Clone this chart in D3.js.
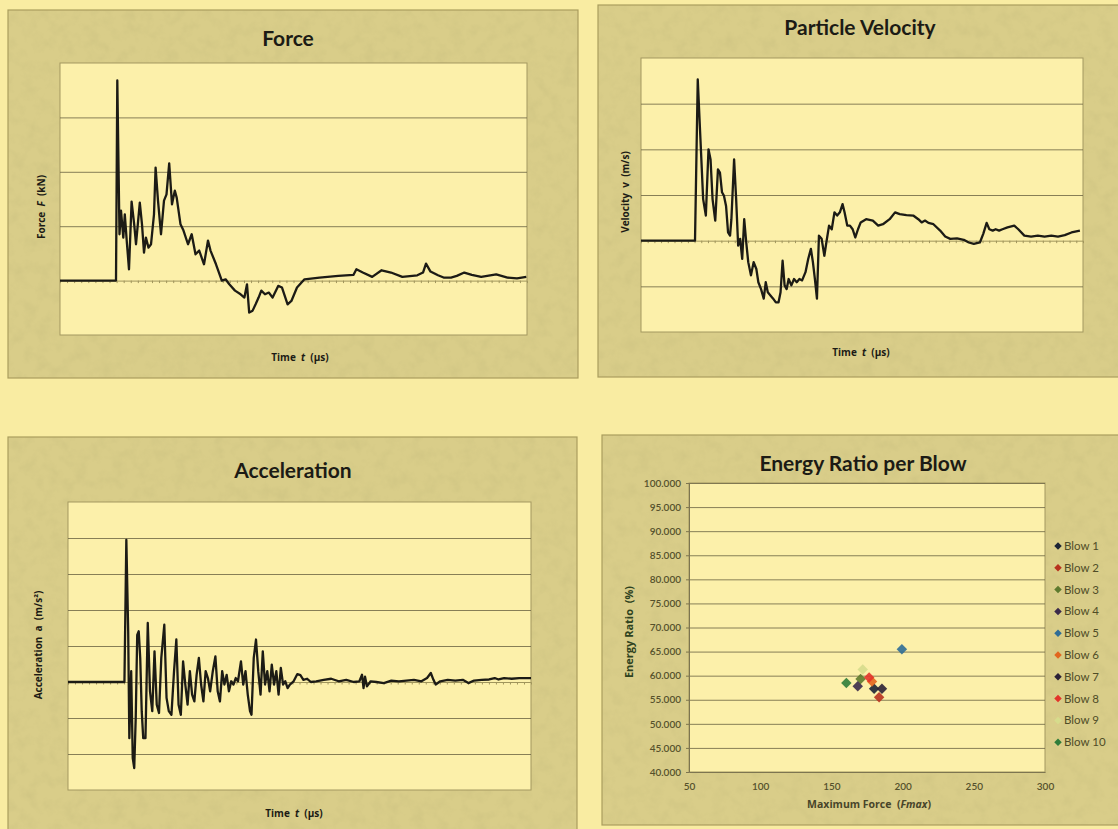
<!DOCTYPE html>
<html><head><meta charset="utf-8">
<script src="https://cdn.jsdelivr.net/npm/d3@7"></script>
<style>html,body{margin:0;padding:0;background:#f9eca2;}svg{display:block}</style>
</head><body><script>
// ---------------- DATA ----------------
// Force (kN) vs time (µs)
const forceTime = [0,112,114.6,119,122,126.6,129.6,134,138,143.2,148.4,152,159.6,164,168,171.8,177,182,188,191.2,196,202,208,213,218.4,224,229.6,233.4,241,247,256,263.4,271,278.4,288,296,301,312,323.6,331.2,338.6,350,361.2,368.8,374,378.4,385.2,391.2,397.2,402.6,410,417.6,425.2,436.4,444,455.2,462.8,474,489,519,556.6,586.8,592.8,605.6,624.4,643.2,662,684.6,714.6,726,732,741,756,767.2,782,793.6,808.6,823.6,842.4,872.4,895,914,932.6];
const forceValues = [0,0,184,42.6,64.3,39.5,60.9,33.4,10.4,72.6,51.7,33.4,71.7,51.7,25.7,39.5,30.3,33.4,60.9,103.9,73.5,42.6,73.5,79.3,107.8,70.1,82.7,76.3,51.7,46,33.4,42.6,24.2,27.6,15,36.8,27.6,15,0,1.2,-3.4,-9.2,-12.6,-15.6,-3.4,-29.4,-27.6,-21.8,-15.6,-9.2,-12.6,-11,-15.6,-4.9,-6.4,-21.8,-18.7,-6.4,1.2,2.8,4.3,5.2,10.4,7.4,3.4,9.5,7.4,3.4,4.9,7.4,15.6,8.3,4.9,2.8,2.8,4.3,7.4,5.2,3.4,5.8,2.8,2.1,3.4];

// Particle velocity (m/s) vs time (µs)
const velocityTime = [0,108,113.5,118.9,124.3,129.7,135,139.1,143.1,148.5,153.9,157.9,162,166,170.1,174.1,178.1,180.8,186.2,190.3,194.3,198.3,202.4,206.4,210.5,214.5,219.9,225.3,230.7,234.7,240.1,245.5,249.5,253.6,258.9,264.3,269.7,275.1,279.1,283.2,287.2,291.3,295.3,300.7,306.1,311.5,316.9,322.2,329,334.4,339.8,343.8,347.8,351.9,355.9,361.3,366.7,370.7,376.1,381.5,386.9,392.3,397.7,403.1,407.1,412.5,417.9,423.3,428.6,434,439.4,450.2,463.7,474.4,483.9,497.3,508.1,517.5,531,544.5,554.6,561.3,568,574.8,584.9,598.3,608.4,618.5,632,645.5,655.6,665.7,677.8,684.5,691.3,696.7,703.4,709.4,716.2,722.9,733,746.5,754.6,766.7,780.2,793.6,807.1,820.6,834,847.5,861,877.8];
const velocityValues = [0,0,3.53,2.22,0.91,0.55,2.00,1.78,0.91,0.44,1.56,1.49,1.06,0.98,0.76,0.18,0.11,0.47,1.78,0.91,-0.11,0.04,-0.40,0.47,-0.04,-0.47,-0.76,-0.47,-0.62,-0.91,-1.06,-1.27,-0.91,-1.13,-1.20,-1.27,-1.35,-1.35,-1.13,-0.44,-0.98,-1.06,-0.84,-0.98,-0.84,-0.91,-0.84,-0.87,-0.69,-0.40,-0.18,-0.47,-0.84,-1.27,0.11,0.04,-0.33,-0.04,0.33,0.25,0.62,0.55,0.62,0.80,0.62,0.33,0.33,0.25,0.07,0.25,0.40,0.47,0.44,0.33,0.36,0.47,0.62,0.58,0.56,0.55,0.47,0.40,0.44,0.39,0.36,0.22,0.09,0.04,0.05,0.02,-0.04,-0.07,-0.04,0.15,0.39,0.25,0.22,0.25,0.22,0.25,0.29,0.33,0.25,0.11,0.09,0.11,0.09,0.11,0.09,0.12,0.18,0.22];

// Acceleration (×10³ m/s²) vs time (µs)
const accelTime = [0,113,116.8,120.5,122.8,126.5,129.6,132.6,135.6,138.6,141.6,144.6,147.6,150.6,155.1,159.7,164.2,168.7,173.2,177.7,182.2,186.8,192.8,197.3,201.8,207.1,212.3,216.9,221.4,225.9,230.4,234.9,239.4,244,248.5,253,257.5,262,266.5,271.1,275.6,280.1,284.6,289.9,295.1,299.7,304.2,308.7,313.2,317.7,322.2,326.8,331.3,335.8,340.3,346.3,350.8,355.4,359.9,364.4,367.4,371.9,376.4,380.9,385.5,390,394.5,399,403.5,408,412.6,417.1,421.6,426.1,430.6,435.1,439.7,444.2,451.7,459.2,465.3,471.3,478.8,486.3,496.9,511.9,527,542,557.1,572.1,583.4,588.7,591.7,594.7,598.5,606,617.3,632.4,647.4,662.5,677.5,692.6,707.6,718.9,726.4,731.7,736.2,745.3,760.3,775.4,790.4,801.7,813,828.1,843.1,854.4,861.9,873.2,888.3,903.3,918.4,927];
const accelValues = [0,0,3.95,1.41,-1.56,0.30,-2.11,-2.39,-1.00,1.31,1.41,0.67,-0.81,-1.56,-1.56,1.64,-0.26,-0.81,0.85,-0.63,-0.86,0.67,1.59,-0.44,-0.81,-0.91,0.30,1.18,-0.63,-0.91,0.57,-0.07,-0.63,0.30,-0.35,-0.54,0.20,0.67,-0.07,-0.54,0.30,0.11,-0.26,0.30,0.71,-0.26,-0.54,0.30,-0.07,0.20,-0.26,0.02,-0.07,0.11,0.02,0.57,-0.07,0.30,-0.35,-0.81,-0.91,0.67,1.18,0.30,-0.35,0.85,-0.07,0.30,-0.26,0.48,-0.07,0.30,-0.35,0.39,-0.07,0.02,-0.17,-0.07,0.02,0.22,0.19,0.06,0.09,0.00,0.02,0.06,0.09,0.02,0.06,0.00,0.02,0.20,-0.17,0.15,-0.12,0.02,0.00,-0.03,0.04,0.02,0.04,0.06,0.02,0.11,0.25,0.06,-0.07,0.02,0.06,0.04,0.06,-0.03,0.04,0.06,0.07,0.11,0.07,0.11,0.09,0.11,0.11,0.11];

// Energy ratio per blow
const blowNames = ["Blow 1","Blow 2","Blow 3","Blow 4","Blow 5","Blow 6","Blow 7","Blow 8","Blow 9","Blow 10"];
const blowMaxForce = [180,183.5,170.5,168.5,199.5,178.5,185.5,176.5,172,160.5];
const blowEnergyRatio = [57.3,55.5,59.3,57.8,65.5,58.8,57.3,59.6,61.3,58.5];
const energyTicks = [40,45,50,55,60,65,70,75,80,85,90,95,100];
const maxForceTicks = [50,100,150,200,250,300];

// ---------------- STYLE ----------------
const W = 1118, H = 829;
const PAGE = "#f9eca2", PANEL = "#d9cd89", PLOT = "#fcf0aa", GRID = "#726b48", INK = "#1c1b15";
const blowColors = ["#1c2434","#b8321e","#5e7a2e","#3b2a4a","#2f6d96","#e2661e","#2b2136","#e3342a","#d6dc8c","#2f7d3a"];
const FONT = "Lato, 'Open Sans', sans-serif";
const AXFONT = "'Open Sans', Lato, sans-serif";

const svg = d3.select("body").append("svg").attr("width", W).attr("height", H)
  .style("font-family", FONT);
const defs = svg.append("defs");
const flt = defs.append("filter").attr("id", "grain").attr("x", 0).attr("y", 0).attr("width", "100%").attr("height", "100%");
flt.append("feTurbulence").attr("type", "fractalNoise").attr("baseFrequency", 0.08).attr("numOctaves", 3).attr("seed", 7).attr("result", "n");
flt.append("feColorMatrix").attr("in", "n").attr("type", "matrix")
  .attr("values", "0 0 0 0 0.4  0 0 0 0 0.37  0 0 0 0 0.15  1.4 0 0 0 -0.6");

svg.append("rect").attr("width", W).attr("height", H).attr("fill", PAGE);

function drawPanel(p) {
  svg.append("rect").attr("x", p.x).attr("y", p.y).attr("width", p.w).attr("height", p.h)
    .attr("fill", PANEL).attr("stroke", "#aa9d5e").attr("stroke-width", 1.2);
  svg.append("rect").attr("x", p.x).attr("y", p.y).attr("width", p.w).attr("height", p.h)
    .attr("filter", "url(#grain)").attr("opacity", 0.22);
}

function richText(g, parts, attrs) {
  const t = g.append("text");
  Object.entries(attrs).forEach(([k, v]) => t.attr(k, v));
  t.attr("xml:space", "preserve");
  parts.forEach(pt => {
    const s = t.append("tspan").text(pt.t);
    if (pt.i) s.attr("font-style", "italic");
  });
  return t;
}

function lineChart(cfg) {
  drawPanel(cfg.panel);
  const pl = cfg.plot;
  const x = d3.scaleLinear().domain(cfg.xDomain).range([pl.x, pl.x + pl.w]);
  const y = d3.scaleLinear().domain(cfg.yDomain).range([pl.y + pl.h, pl.y]);
  const g = svg.append("g");
  g.append("rect").attr("x", pl.x).attr("y", pl.y).attr("width", pl.w).attr("height", pl.h)
    .attr("fill", PLOT).attr("stroke", "#a39860").attr("stroke-width", 1);
  const gridVals = d3.range(cfg.yDomain[0] + cfg.yStep, cfg.yDomain[1], cfg.yStep).filter(v => Math.abs(v) > 1e-9);
  const grid = g.append("g").attr("transform", `translate(${pl.x},0)`)
    .call(d3.axisLeft(y).tickValues(gridVals).tickSize(-pl.w).tickFormat(""));
  grid.select(".domain").remove();
  grid.selectAll("line").attr("stroke", GRID).attr("stroke-width", 1).attr("opacity", 0.85);
  // zero axis with minor ticks
  const za = g.append("g").attr("transform", `translate(0,${y(0)})`)
    .call(d3.axisBottom(x).tickValues(d3.range(cfg.xDomain[0], cfg.xDomain[1], cfg.xDomain[1] / 66)).tickSize(2.5).tickFormat(""));
  za.select(".domain").attr("stroke", "#a0955c").attr("stroke-width", 1);
  za.selectAll("line").attr("stroke", "#a0955c");
  // curve
  const idx = d3.range(cfg.times.length);
  g.append("path").datum(idx)
    .attr("d", d3.line().x(i => x(cfg.times[i])).y(i => y(cfg.values[i])))
    .attr("fill", "none").attr("stroke", INK).attr("stroke-width", 2.3)
    .attr("stroke-linejoin", "round");
  // titles
  svg.append("text").attr("x", cfg.title.x).attr("y", cfg.title.y).attr("text-anchor", "middle")
    .attr("font-size", 21).attr("font-weight", 700).attr("fill", INK).text(cfg.title.text);
  richText(svg, [{t: "Time  "}, {t: "t", i: true}, {t: "  (µs)"}],
    {x: cfg.xTitle.x, y: cfg.xTitle.y, "text-anchor": "middle", "font-size": 10, "font-weight": 700, fill: INK, "font-family": AXFONT});
  richText(svg, cfg.yTitle.parts,
    {transform: `translate(${cfg.yTitle.x},${cfg.yTitle.y}) rotate(-90)`, "text-anchor": "middle",
     "font-size": 10, "font-weight": 700, fill: INK, "font-family": AXFONT});
}

lineChart({
  panel: {x: 8, y: 10, w: 570, h: 368},
  plot: {x: 60, y: 63, w: 467, h: 272},
  xDomain: [0, 934], yDomain: [-50, 200], yStep: 50,
  times: forceTime, values: forceValues,
  title: {text: "Force", x: 288, y: 46},
  xTitle: {x: 300, y: 361},
  yTitle: {x: 45, y: 207, parts: [{t: "Force  "}, {t: "F", i: true}, {t: "  (kN)"}]}
});

lineChart({
  panel: {x: 598, y: 5, w: 530, h: 372},
  plot: {x: 641, y: 58, w: 442, h: 274},
  xDomain: [0, 884], yDomain: [-2, 4], yStep: 1,
  times: velocityTime, values: velocityValues,
  title: {text: "Particle Velocity", x: 860, y: 35},
  xTitle: {x: 861, y: 356},
  yTitle: {x: 629, y: 192, parts: [{t: "Velocity  "}, {t: "v"}, {t: "  (m/s)"}]}
});

lineChart({
  panel: {x: 8, y: 437, w: 569, h: 400},
  plot: {x: 68, y: 502, w: 463, h: 288},
  xDomain: [0, 927], yDomain: [-3, 5], yStep: 1,
  times: accelTime, values: accelValues,
  title: {text: "Acceleration", x: 293, y: 478},
  xTitle: {x: 294, y: 817},
  yTitle: {x: 42, y: 645, parts: [{t: "Acceleration  "}, {t: "a"}, {t: "  (m/s²)"}]}
});

// ---------------- Energy ratio scatter ----------------
(function () {
  const p = {x: 602, y: 435, w: 520, h: 390};
  drawPanel(p);
  const pl = {x: 689, y: 483, w: 356, h: 289};
  const x = d3.scaleLinear().domain([50, 300]).range([pl.x, pl.x + pl.w]);
  const y = d3.scaleLinear().domain([40, 100]).range([pl.y + pl.h, pl.y]);
  const g = svg.append("g");
  g.append("rect").attr("x", pl.x).attr("y", pl.y).attr("width", pl.w).attr("height", pl.h)
    .attr("fill", PLOT).attr("stroke", "#a39860");
  const grid = g.append("g").attr("transform", `translate(${pl.x},0)`)
    .call(d3.axisLeft(y).tickValues(energyTicks.slice(1)).tickSize(-pl.w).tickFormat(""));
  grid.select(".domain").remove();
  grid.selectAll("line").attr("stroke", GRID).attr("opacity", 0.85);

  const ya = g.append("g").attr("transform", `translate(${pl.x},0)`)
    .call(d3.axisLeft(y).tickValues(energyTicks).tickSize(3).tickPadding(5).tickFormat(d3.format(".3f")));
  ya.select(".domain").attr("stroke", "#7d7550");
  ya.selectAll("line").attr("stroke", "#7d7550");
  ya.selectAll("text").attr("font-size", 10).attr("font-weight", 600).attr("fill", "#55512c").attr("font-family", FONT);

  const xa = g.append("g").attr("transform", `translate(0,${pl.y + pl.h})`)
    .call(d3.axisBottom(x).tickValues(maxForceTicks).tickSize(0).tickPadding(11));
  xa.select(".domain").attr("stroke", "#7d7550");
  xa.selectAll("text").attr("font-size", 10).attr("font-weight", 600).attr("fill", "#55512c").attr("font-family", FONT);

  const sym = d3.symbol().type(d3.symbolDiamond2).size(70);
  g.selectAll("path.pt").data(d3.range(blowNames.length)).join("path").attr("class", "pt")
    .attr("transform", i => `translate(${x(blowMaxForce[i])},${y(blowEnergyRatio[i])})`)
    .attr("d", sym).attr("fill", i => blowColors[i]).attr("opacity", 0.9);

  svg.append("text").attr("x", 863).attr("y", 471).attr("text-anchor", "middle")
    .attr("font-size", 21).attr("font-weight", 700).attr("fill", INK).text("Energy Ratio per Blow");
  richText(svg, [{t: "Maximum Force  ("}, {t: "Fmax", i: true}, {t: ")"}],
    {x: 869, y: 808, "text-anchor": "middle", "font-size": 10.5, "font-weight": 700, fill: "#48452a", "font-family": AXFONT});
  richText(svg, [{t: "Energy Ratio  (%)"}],
    {transform: "translate(633,632) rotate(-90)", "text-anchor": "middle", "font-size": 11, "font-weight": 700, fill: "#2e4220", "font-family": AXFONT});

  const leg = svg.append("g").attr("transform", "translate(1058,546)");
  const ls = d3.symbol().type(d3.symbolDiamond2).size(36);
  const items = leg.selectAll("g").data(d3.range(blowNames.length)).join("g")
    .attr("transform", i => `translate(0,${i * 21.8})`);
  items.append("path").attr("d", ls).attr("fill", i => blowColors[i]);
  items.append("text").attr("x", 6).attr("dy", "0.35em").attr("font-size", 11.5)
    .attr("fill", "#4f4c27").text(i => blowNames[i]);
})();
</script></body></html>
